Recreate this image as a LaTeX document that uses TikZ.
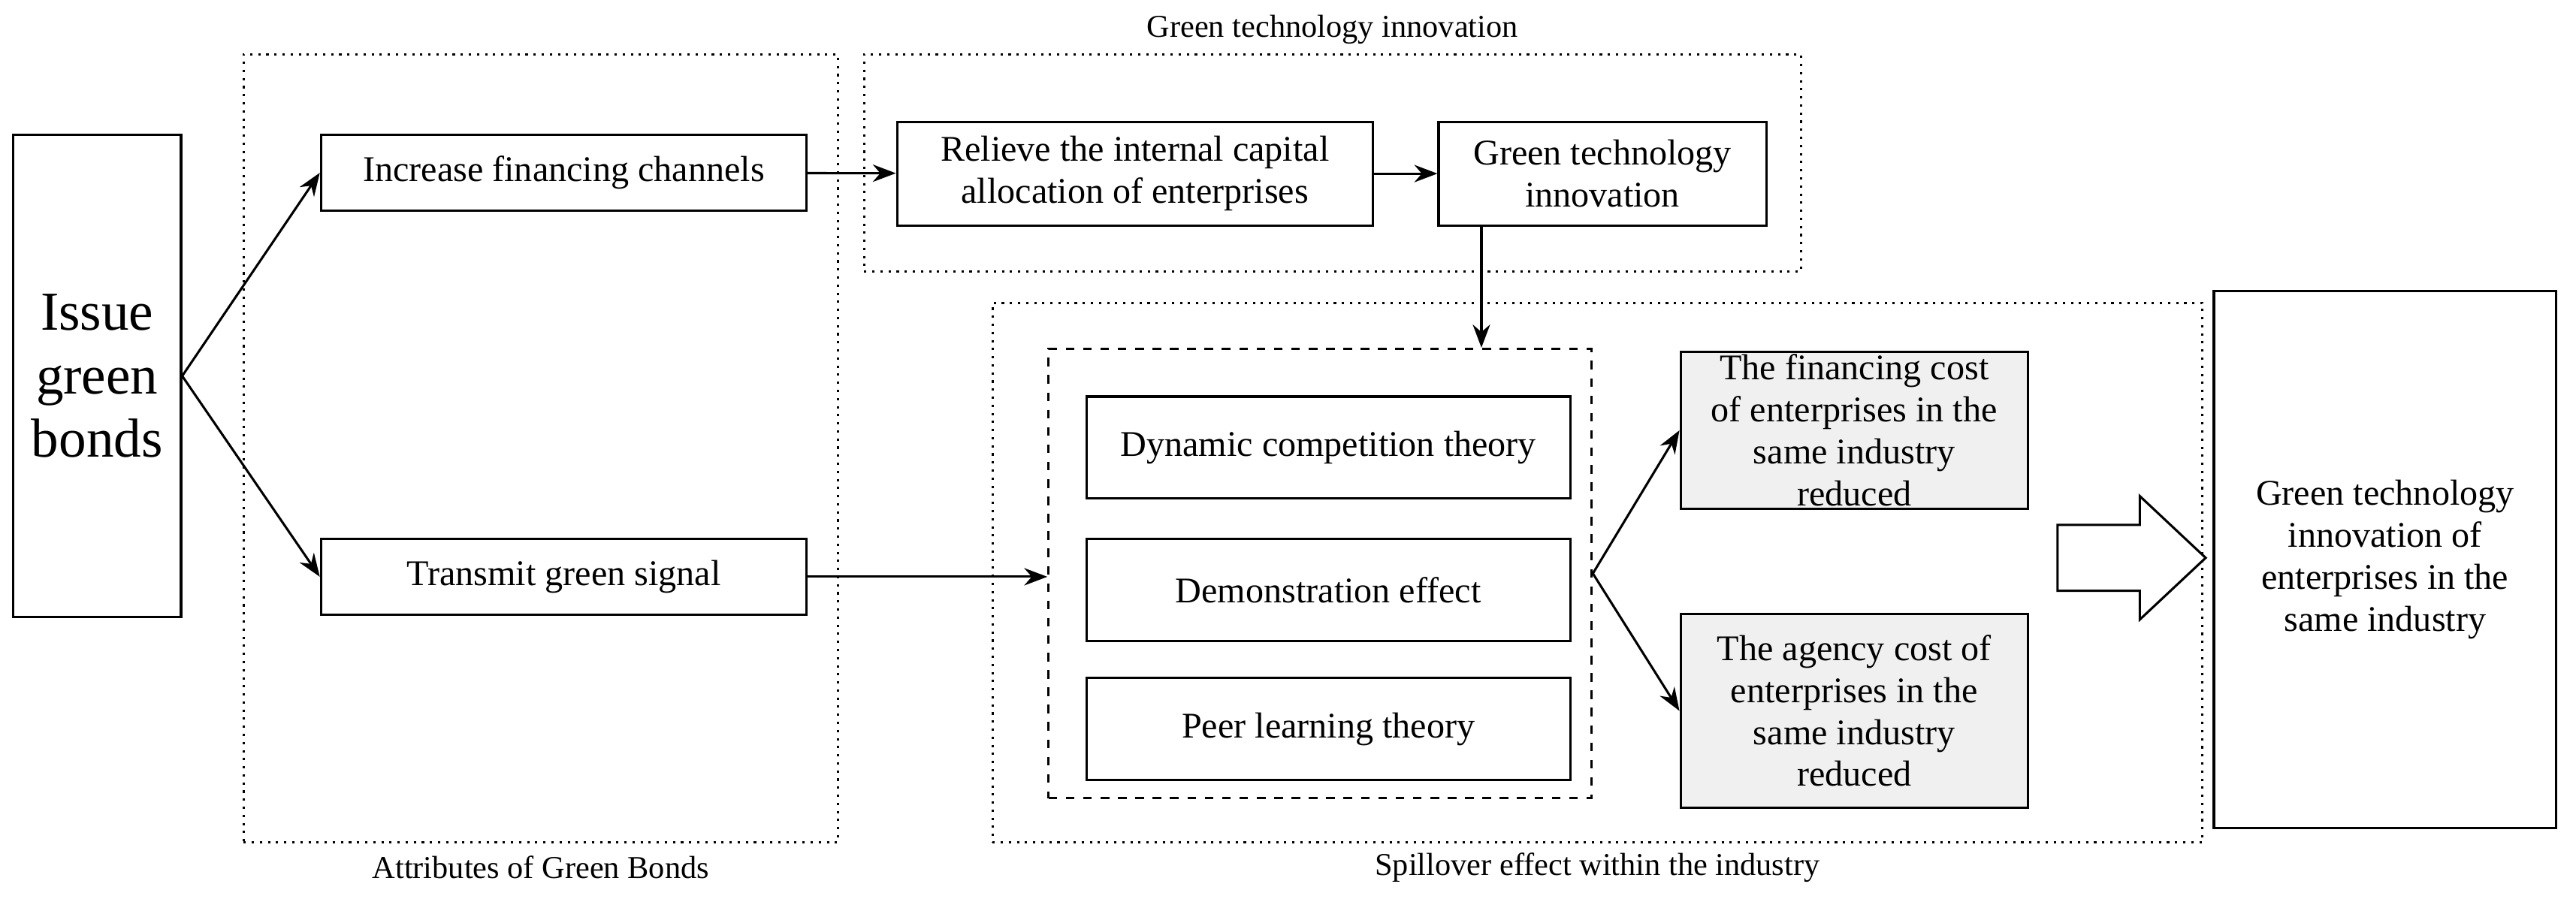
\documentclass[tikz,border=0pt]{standalone}
\usepackage{fontspec}
\setmainfont{Liberation Serif}
\usetikzlibrary{shapes,arrows,arrows.meta,positioning,fit,calc}

\begin{document}
\begin{tikzpicture}[
    box/.style={rectangle, draw, thick, align=center, font=\fontsize{12.5}{14.5}\selectfont, inner sep=1pt},
    grey/.style={box, fill=gray!12},
    frame/.style={rectangle, draw, thick, dotted},
    caption/.style={font=\fontsize{11}{13}\selectfont},
    line/.style={draw, thick},
    >={Stealth[length=8pt,width=6pt]}
]
\useasboundingbox (0,0) rectangle (31.3,10.92);

% Frames
\node[frame, minimum width=7.22cm, minimum height=9.58cm] (attr) at (6.57,5.47) {};
\node[frame, minimum width=11.38cm, minimum height=2.64cm] (gtframe) at (16.19,8.94) {};
\node[frame, minimum width=14.7cm, minimum height=6.56cm] (spill) at (19.41,3.96) {};
\node[rectangle, draw, thick, dashed, minimum width=6.6cm, minimum height=5.46cm] (mech) at (16.04,3.95) {};
\node[caption] at (6.57,0.38) {Attributes of Green Bonds};
\node[caption] at (16.19,10.56) {Green technology innovation};
\node[caption] at (19.41,0.38) {Spillover effect within the industry};

% Boxes
\node[box, minimum width=2.04cm, minimum height=5.86cm, font=\fontsize{19}{22}\selectfont] (issue) at (1.18,6.35) {Issue\\green\\bonds};
\node[box, minimum width=5.9cm, minimum height=0.92cm] (increase) at (6.85,8.82) {Increase financing channels};
\node[box, minimum width=5.9cm, minimum height=0.92cm] (transmit) at (6.85,3.91) {Transmit green signal};
\node[box, minimum width=5.78cm, minimum height=1.26cm] (relieve) at (13.79,8.81) {Relieve the internal capital\\allocation of enterprises};
\node[box, minimum width=3.98cm, minimum height=1.26cm] (gti) at (19.47,8.81) {Green technology\\innovation};
\node[box, minimum width=5.88cm, minimum height=1.24cm] (dynamic) at (16.14,5.48) {Dynamic competition theory};
\node[box, minimum width=5.88cm, minimum height=1.24cm] (demo) at (16.14,3.75) {Demonstration effect};
\node[box, minimum width=5.88cm, minimum height=1.24cm] (peer) at (16.14,2.06) {Peer learning theory};
\node[grey, minimum width=4.22cm, minimum height=1.82cm] (financing) at (22.53,5.69) {The financing cost\\of enterprises in the\\same industry\\reduced};
\node[grey, minimum width=4.22cm, minimum height=2.36cm] (agency) at (22.53,2.28) {The agency cost of\\enterprises in the\\same industry\\reduced};
\node[box, minimum width=4.16cm, minimum height=6.52cm] (result) at (28.98,4.12) {Green technology\\innovation of\\enterprises in the\\same industry};

% Block arrow
\draw[thick, fill=white] (25.0,4.54) -- (26.0,4.54) -- (26.0,4.89) -- (26.8,4.14)
    -- (26.0,3.39) -- (26.0,3.74) -- (25.0,3.74) -- cycle;

% Connectors
\coordinate (drop) at (18.0,8.18);
\path[line,->] (issue.east) -- (increase.west);
\path[line,->] (issue.east) -- (transmit.west);
\path[line,->] (increase) -- (relieve);
\path[line,->] (relieve) -- (gti);
\path[line,->] (drop) -- (drop |- mech.north);
\path[line,->] (transmit.east) -- (transmit.east -| mech.west);
\path[line,->] (mech.east) -- (financing.west);
\path[line,->] (mech.east) -- (agency.west);

\end{tikzpicture}
\end{document}
